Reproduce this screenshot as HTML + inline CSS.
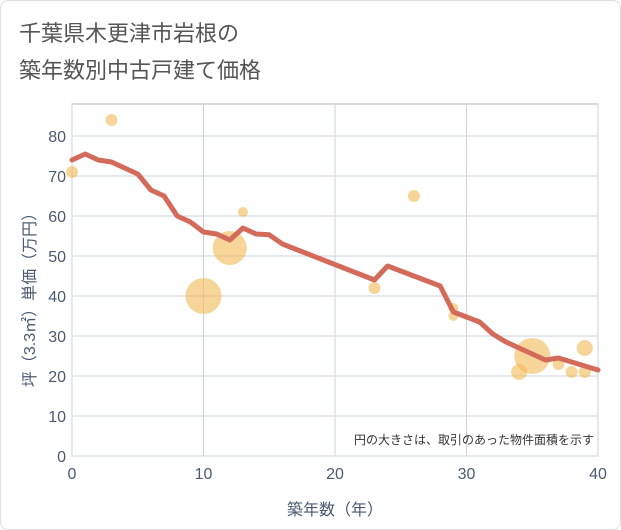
<!DOCTYPE html>
<html><head><meta charset="utf-8">
<style>
body{margin:0;background:#fff;font-family:"Liberation Sans","Noto Sans CJK JP",sans-serif;}
#wrap{position:relative;width:619px;height:528px;border:1px solid #ddd;border-radius:8px;overflow:hidden;background:#fff;}
</style></head><body>
<div id="wrap">
<svg id="chart" width="621" height="530">
<text x="18" y="40" font-size="22" fill="#555">千葉県木更津市岩根の</text>
<text x="18" y="77" font-size="22" fill="#555">築年数別中古戸建て価格</text>
<g id="grid"></g><g id="bubbles"></g><g id="line"></g><g id="axes"></g>
<text x="593" y="443" font-size="12" fill="#333" text-anchor="end">円の大きさは、取引のあった物件面積を示す</text>
<text x="334" y="514" font-size="16" fill="#4a5a70" text-anchor="middle">築年数（年）</text>
<text transform="translate(34,295) rotate(-90)" font-size="16" fill="#4a5a70" text-anchor="middle">坪（3.3㎡）単価（万円）</text>
</svg></div>
<script>
const xTicks=[0,10,20,30,40];
const yTicks=[0,10,20,30,40,50,60,70,80];
const lineYears=[0,1,2,3,4,5,6,7,8,9,10,11,12,13,14,15,16,23,24,28,29,31,32,33,34,35,36,37,38,39,40];
const linePrices=[74,75.5,74,73.5,72,70.5,66.5,65,60,58.5,56,55.5,54,57,55.5,55.3,53,44,47.5,42.5,36,33.5,30.5,28.5,27,25.5,24,24.5,23.5,22.5,21.5];
const bubbleYears=[0,3,10,12,13,23,26,29,29,34,35,37,38,39,39];
const bubblePrices=[71,84,40,52,61,42,65,37,35,21,25,23,21,21,27];
const bubbleSizes=[6,6,18,17,5,6,6,5,5,8,18,6,6,6,8];
const NS="http://www.w3.org/2000/svg";
const X0=71,X1=597,Y0=455,Y1=135,YT=103;
const sx=v=>X0+(X1-X0)*v/40, sy=v=>Y0-(Y0-Y1)*v/80;
function mk(t,a,p){const e=document.createElementNS(NS,t);for(const k in a)e.setAttribute(k,a[k]);p.appendChild(e);return e;}
const grid=document.getElementById('grid'),axes=document.getElementById('axes');
const fr=mk('rect',{x:X0,y:YT,width:X1-X0,height:Y0-YT,fill:'#fff',stroke:'#b5b5b5'},grid);


yTicks.forEach(v=>{const l=mk('line',{x1:X0,x2:X1,y1:sy(v),y2:sy(v),stroke:'#c9d3e0'},grid);


const t=mk('text',{x:X0-6,y:sy(v)+6,'font-size':16,fill:'#4a5a70','text-anchor':'end'},axes);t.textContent=v;

});
xTicks.forEach(v=>{const l=mk('line',{x1:sx(v),x2:sx(v),y1:YT,y2:Y0,stroke:'#c9d3e0'},grid);


const t=mk('text',{x:sx(v),y:478,'font-size':16,fill:'#4a5a70','text-anchor':'middle'},axes);t.textContent=v;

});
const bg=document.getElementById('bubbles');
bubbleYears.forEach((y,i)=>{const c=mk('circle',{cx:sx(y),cy:sy(bubblePrices[i]),r:bubbleSizes[i],fill:'#f1b954','fill-opacity':0.6},bg);

});
const pts=lineYears.map((y,i)=>sx(y)+','+sy(linePrices[i])).join(' ');
const pl=mk('polyline',{points:pts,fill:'none',stroke:'#d46a5a','stroke-width':5,'stroke-linejoin':'round','stroke-linecap':'round'},document.getElementById('line'));


</script>
</body></html>
